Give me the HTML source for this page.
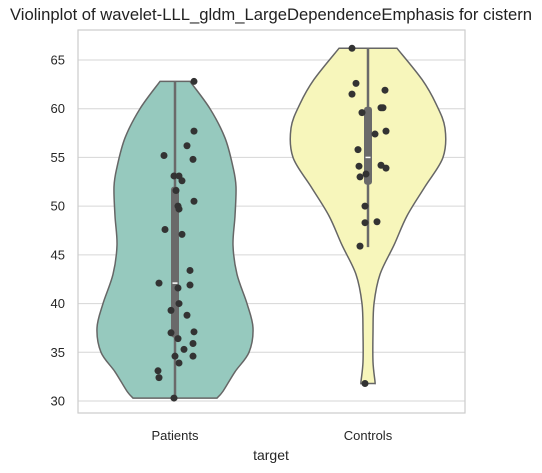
<!DOCTYPE html>
<html><head><meta charset="utf-8"><style>
body{margin:0;background:#fff;}
svg{display:block;font-family:"Liberation Sans",sans-serif;}
</style></head><body>
<svg id="c" width="542" height="473"></svg>
<script>
const categories=["Patients","Controls"];
const colors=["#96c9be","#f7f6bb"];
const yTicks=[30,35,40,45,50,55,60,65];
// violin profile: values and half-widths (density, px)
const profV0=[62.8,60,57,54,52,49,46,43,40,37.5,35,33,31,30.3];
const profW0=[15,35,50,58,61,60,58,62,72,78,74,60,48,42];
const profV1=[66.2,63,60.5,58,55,52,49,46,43,40,37,34,32,31.8];
const profW1=[29,54,68,77,75,57,39,26,12,6,5,5,7,7];
const box0=[30.3,36.5,42.1,52,62.8];
const box1=[45.8,52.2,55,60.2,66.2];
const pts0=[[194,62.8],[194,57.7],[187,56.2],[164,55.2],[193,54.8],[174,53.1],[179,53.1],[182,52.6],[176,51.6],[194,50.5],[178,50.0],[179,49.7],[165,47.6],[182,47.1],[190,43.4],[159,42.1],[190,41.9],[178,41.6],[179,40.0],[171,39.3],[187,38.8],[194,37.1],[171,37.0],[178,36.4],[193,35.9],[184,35.3],[175,34.6],[193,34.6],[179,33.9],[158,33.1],[159,32.4],[174,30.3]];
const pts1=[[352,66.2],[356,62.6],[385,61.9],[352,61.5],[381,60.1],[383,60.1],[362,59.6],[375,57.4],[386,57.7],[358,55.8],[359,54.1],[381,54.2],[386,53.9],[366,53.3],[360,53.0],[365,50.0],[365,48.3],[377,48.4],[360,45.9],[365,31.8]];
const L=78,R=465,T=30,B=413;
const y=v=>401-(v-30)*(341/35);
const xc=[175,368];
const NS="http://www.w3.org/2000/svg";
const svg=document.getElementById('c');
function mk(t,a,p){const e=document.createElementNS(NS,t);for(const k in a)e.setAttribute(k,a[k]);(p||svg).appendChild(e);return e;}
let t=mk('text',{x:10,y:20,'font-size':16.5,fill:'#222',textLength:522,lengthAdjust:'spacingAndGlyphs'});t.textContent="Violinplot of wavelet-LLL_gldm_LargeDependenceEmphasis for cistern";

yTicks.forEach(v=>{let g=mk('line',{x1:L,x2:R,y1:y(v),y2:y(v),stroke:'#d6d6d6','stroke-width':1});

let l=mk('text',{x:65,y:y(v)+4.5,'text-anchor':'end','font-size':13,fill:'#262626'});l.textContent=v;
});
function smooth(P){let d=`M${P[0][0]},${P[0][1]}`;for(let i=0;i<P.length-1;i++){const p0=P[Math.max(0,i-1)],p1=P[i],p2=P[i+1],p3=P[Math.min(P.length-1,i+2)];d+=`C${p1[0]+(p2[0]-p0[0])/6},${p1[1]+(p2[1]-p0[1])/6} ${p2[0]-(p3[0]-p1[0])/6},${p2[1]-(p3[1]-p1[1])/6} ${p2[0]},${p2[1]}`;}return d;}
[[profV0,profW0,box0,pts0],[profV1,profW1,box1,pts1]].forEach(([pv,pw,bx,pts],i)=>{
const c=xc[i];
const right=pv.map((v,j)=>[c+pw[j],y(v)]);
const left=pv.map((v,j)=>[c-pw[j],y(v)]).reverse();
let d=smooth(right)+"L"+left[0][0]+","+left[0][1]+smooth(left).replace(/^M[^C]*/,'')+"Z";
let p=mk('path',{d:d,fill:colors[i],stroke:'#666','stroke-width':1.5});

let w=mk('line',{x1:c,x2:c,y1:y(bx[0]),y2:y(bx[4]),stroke:'#6a6a6a','stroke-width':2.5});

let b=mk('rect',{x:c-4,y:y(bx[3]),width:8,height:y(bx[1])-y(bx[3]),rx:3,fill:'#6a6a6a'});

let m=mk('line',{x1:c-2.5,x2:c+2.5,y1:y(bx[2]),y2:y(bx[2]),stroke:'#fff','stroke-width':1.5});

pts.forEach(q=>{let e=mk('circle',{cx:q[0],cy:y(q[1]),r:3.5,fill:'#333'});
});
let xl=mk('text',{x:c,y:440,'text-anchor':'middle','font-size':13,fill:'#262626'});xl.textContent=categories[i];

});
let f=mk('rect',{x:L,y:T,width:R-L,height:B-T,fill:'none',stroke:'#cccccc','stroke-width':1.2});

let xt=mk('text',{x:271,y:460,'text-anchor':'middle','font-size':14,fill:'#262626'});xt.textContent="target";

</script>
</body></html>
